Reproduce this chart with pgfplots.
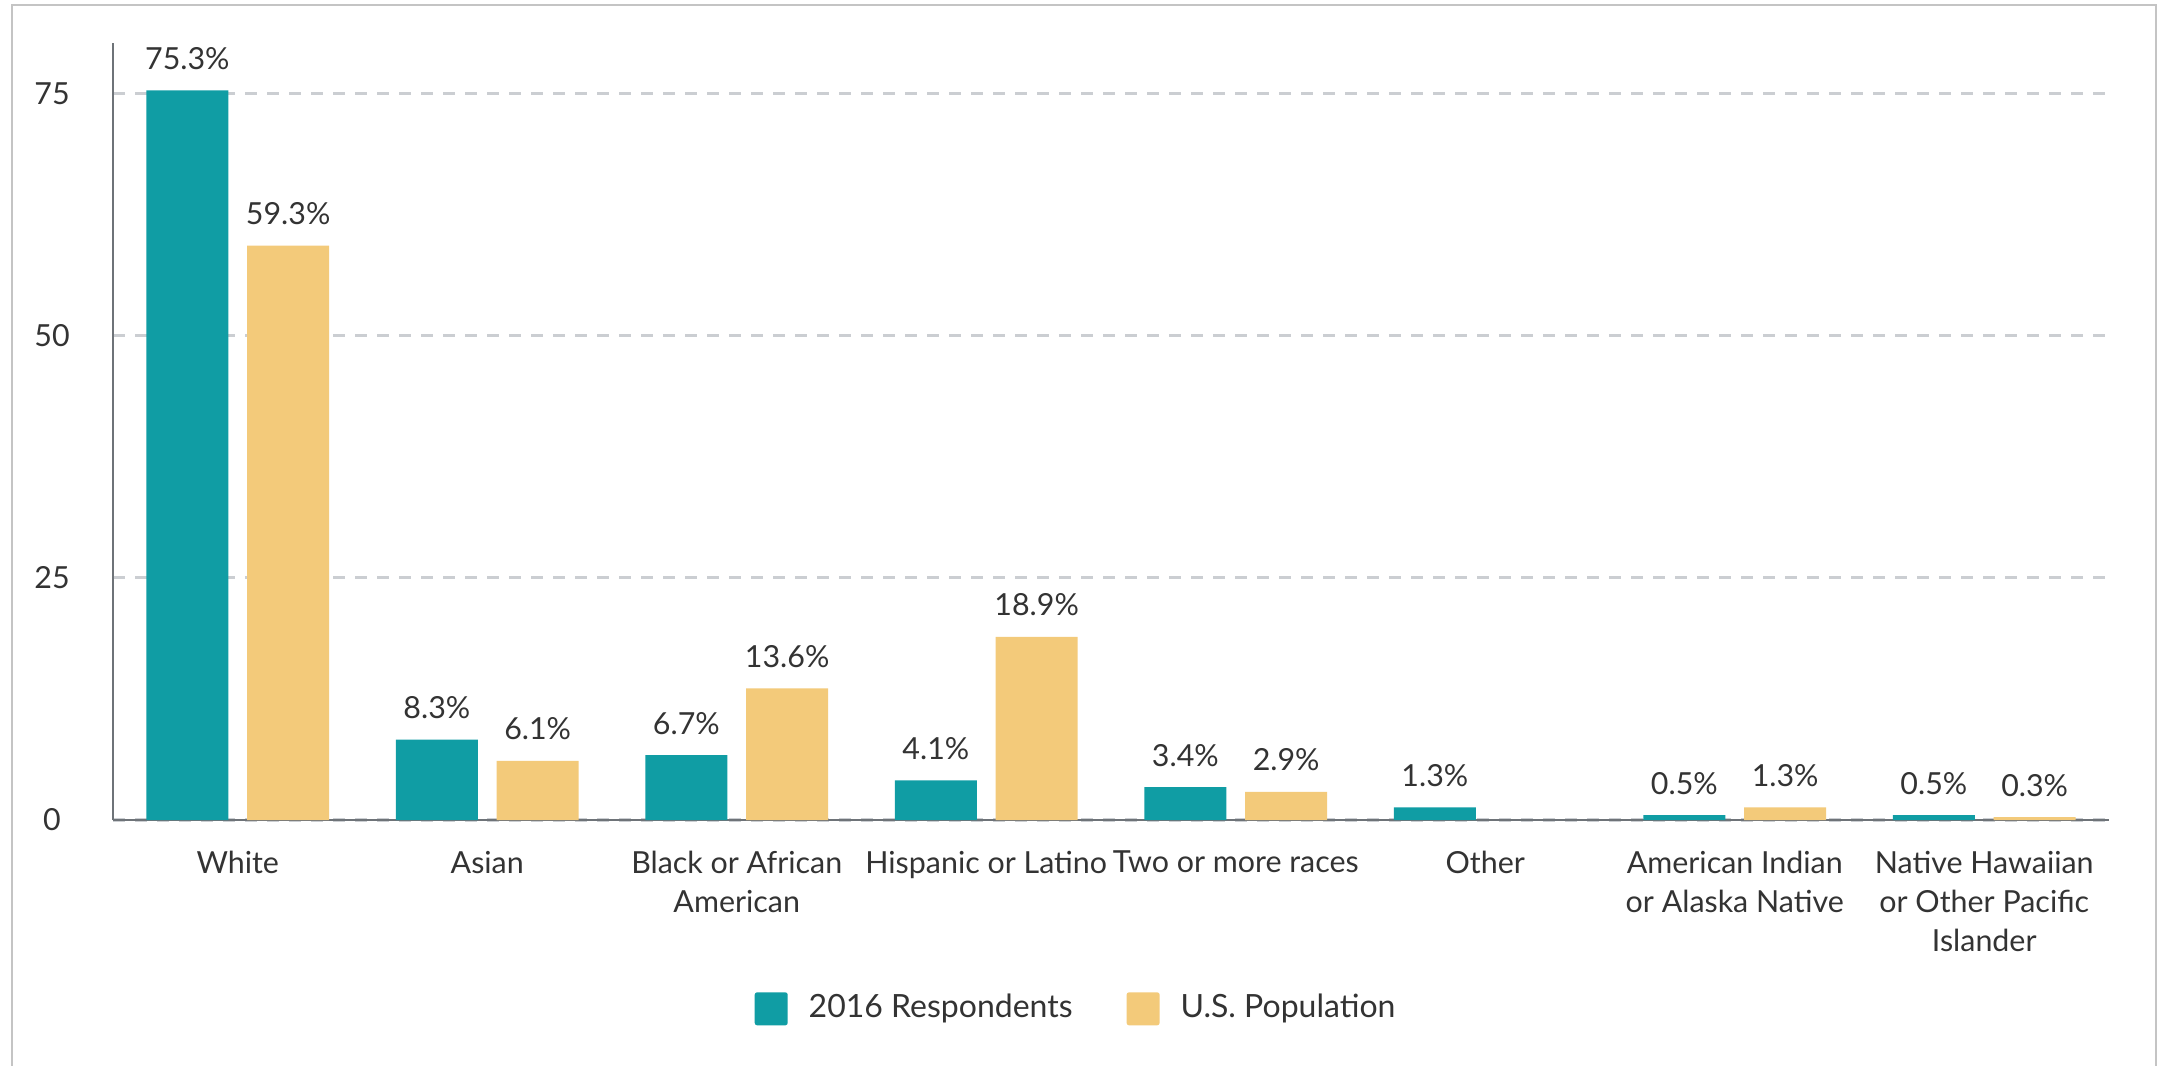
\documentclass[border=0pt]{standalone}
\usepackage{fontspec}
\setmainfont{Lato}
\usepackage{xcolor}
\usepackage{pgfplots}
\pgfplotsset{compat=1.18}

\definecolor{tealbar}{HTML}{109DA4}
\definecolor{sandbar}{HTML}{F3CA7A}
\definecolor{gridgray}{HTML}{CBCED2}
\definecolor{axisgray}{HTML}{6E7378}
\definecolor{framegray}{HTML}{C4C4C4}
\definecolor{txt}{HTML}{333333}
\newcommand\lbl{\fontsize{7.6}{9.75}\selectfont}
\newcommand\lgd{\fontsize{8.0}{10}\selectfont}

\begin{document}
\begin{tikzpicture}
\begin{axis}[
  at={(0,0)}, anchor=south west,
  width=499pt, height=194.25pt, scale only axis,
  xmin=-0.5, xmax=7.5, ymin=0, ymax=80.2,
  ybar, bar width=0.329,
  axis lines=left, axis line style={-, draw=axisgray, line width=0.6pt},
  major tick length=0pt,
  ytick={0,25,50,75},
  ymajorgrids, grid style={gridgray, line width=0.8pt, dash pattern=on 3pt off 2.5pt},
  xtick={0,...,7},
  xticklabels={White, Asian, {Black or African\\American}, Hispanic or Latino,
    Two or more races, Other, {American Indian\\or Alaska Native},
    {Native Hawaiian\\or Other Pacific\\Islander}},
  xticklabel style={align=center, anchor=north, inner sep=0pt, yshift=-7.5pt, font=\lbl, text=txt},
  yticklabel style={anchor=center, xshift=-15.25pt, font=\lbl, text=txt},
  /pgf/number format/assume math mode=true,
  nodes near coords={\pgfmathprintnumber[fixed,fixed zerofill,precision=1]{\pgfplotspointmeta}\%},
  every node near coord/.append style={anchor=south, inner sep=0pt, yshift=5pt, font=\lbl, text=txt},
  legend style={at={(0.482,-0.243)}, anchor=center, draw=none, legend columns=2,
    font=\lgd, text=txt, nodes={inner sep=0pt},
    /tikz/every odd column/.append style={column sep=5.25pt},
    /tikz/every even column/.append style={column sep=13.5pt}},
  legend image code/.code={\fill[#1, rounded corners=0.6pt] (0pt,-4.125pt) rectangle (8.25pt,4.125pt);},
]
\addplot[fill=tealbar, draw=none, bar shift=-0.202] coordinates {
  (0,75.3) (1,8.3) (2,6.7) (3,4.1) (4,3.4) (5,1.3) (6,0.5) (7,0.5)};
\addplot[fill=sandbar, draw=none, bar shift=0.202] coordinates {
  (0,59.3) (1,6.1) (2,13.6) (3,18.9) (4,2.9) (6,1.3) (7,0.3)};
\legend{2016 Respondents, U.S. Population}
\end{axis}
\draw[framegray, line width=0.6pt] (-25.25pt,-80pt) -- (-25.25pt,203.75pt) -- (510.75pt,203.75pt) -- (510.75pt,-80pt);
\pgfresetboundingbox
\path[use as bounding box] (-28.25pt,-61.25pt) rectangle (511.75pt,205pt);
\end{tikzpicture}
\end{document}
